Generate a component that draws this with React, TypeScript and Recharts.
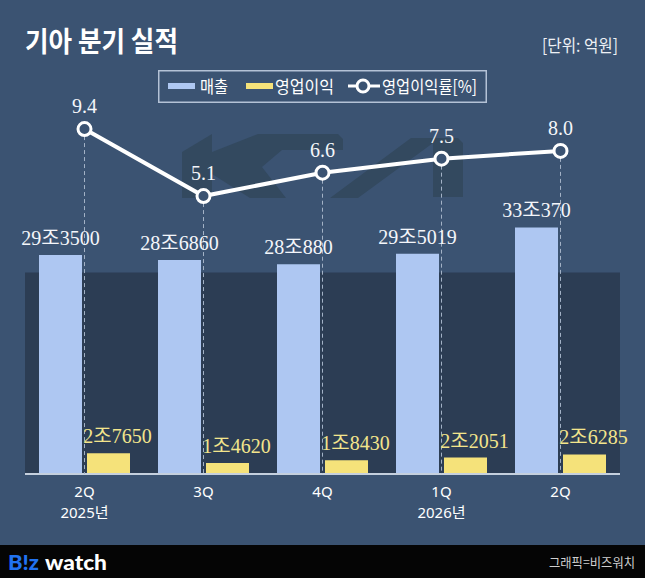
import React from 'react';
import { ComposedChart, Bar, Line, XAxis, YAxis, ReferenceArea, LabelList, Legend } from 'recharts';

// ---- data ----
const quarters = ['2Q', '3Q', '4Q', '1Q', '2Q'];
const years = ['2025년', '', '', '2026년', ''];
const revenue = [293500, 286860, 280880, 295019, 330370]; // 억원
const operatingProfit = [27650, 14620, 18430, 22051, 26285]; // 억원
const marginRate = [9.4, 5.1, 6.6, 7.5, 8.0]; // %

const data = quarters.map((q, i) => ({
  id: i,
  quarter: q,
  year: years[i],
  revenue: revenue[i],
  profit: operatingProfit[i],
  rate: marginRate[i],
}));

// ---- style constants ----
const W = 645;
const H = 578;
const BG = '#3b5372';
const BAND = '#2c3d54';
const LOGO = '#33495f';
const REV_COLOR = '#aec7f2';
const PROFIT_COLOR = '#f5e27a';
const PROFIT_TEXT = '#f3e58c';
const X_AXIS_H = 104;
const PLOT_BOTTOM = H - X_AXIS_H;
const SERIF = "'Liberation Serif', 'DejaVu Serif', 'Noto Sans CJK KR', serif";
const SANS = "'Noto Sans CJK KR', 'Noto Sans', sans-serif";
const TICK_FONT = "'Noto Sans', 'Noto Sans CJK KR', sans-serif";

const fmtJo = (v: number) => `${Math.floor(v / 10000)}조${v % 10000}`;

const RevenueLabel = (props: any) => {
  const { x, y, width, value } = props;
  return (
    <text x={Number(x) + Number(width) / 2} y={Number(y) - 10} textAnchor="middle" fill="#f4f6fa" fontSize={20} fontFamily={SERIF}>
      {fmtJo(Number(value))}
    </text>
  );
};

const ProfitLabel = (props: any) => {
  const { x, y, width, value } = props;
  return (
    <text x={Number(x) + Number(width) / 2 + 9} y={Number(y) - 10} textAnchor="middle" fill={PROFIT_TEXT} fontSize={20} fontFamily={SERIF}>
      {fmtJo(Number(value))}
    </text>
  );
};

const RateLabel = (props: any) => {
  const { x, y, value } = props;
  return (
    <text x={Number(x)} y={Number(y) - 16} textAnchor="middle" fill="#f4f6fa" fontSize={20} fontFamily={SERIF}>
      {Number(value).toFixed(1)}
    </text>
  );
};

const RateDot = (props: any) => {
  const { cx, cy, index } = props;
  return (
    <g key={`dot-${index}`}>
      <line x1={cx} y1={cy + 7} x2={cx} y2={PLOT_BOTTOM} stroke="#a3b2c6" strokeWidth={1} strokeDasharray="4 3" />
      <circle cx={cx} cy={cy} r={6.5} fill={BG} stroke="#ffffff" strokeWidth={3} />
    </g>
  );
};

const XTick = (props: any) => {
  const { x, y, payload } = props;
  const i = Number(payload.value);
  return (
    <text x={x} y={y + 23} textAnchor="middle" fill="#ffffff" fontSize={15} fontFamily={TICK_FONT}>
      <tspan x={x}>{quarters[i]}</tspan>
      {years[i] ? (
        <tspan x={x} dy={21}>
          {years[i]}
        </tspan>
      ) : null}
    </text>
  );
};

const LegendBox = () => (
  <svg width={329} height={33} style={{ display: 'block', overflow: 'visible' }}>
    <rect x={0.75} y={0.75} width={327.5} height={31.5} fill="none" stroke="#b4c2d6" strokeWidth={1.5} />
    <rect x={10} y={13} width={27} height={6} fill={REV_COLOR} />
    <text x={42} y={23} fill="#ffffff" fontSize={17} fontFamily={SANS} textLength={28} lengthAdjust="spacingAndGlyphs">매출</text>
    <rect x={88} y={13} width={27} height={6} fill={PROFIT_COLOR} />
    <text x={117} y={23} fill="#ffffff" fontSize={17} fontFamily={SANS} textLength={59} lengthAdjust="spacingAndGlyphs">영업이익</text>
    <line x1={190} y1={16} x2={222} y2={16} stroke="#ffffff" strokeWidth={3} />
    <circle cx={205} cy={16} r={6} fill={BG} stroke="#ffffff" strokeWidth={3} />
    <text x={224} y={23} fill="#ffffff" fontSize={17} fontFamily={SANS} textLength={95} lengthAdjust="spacingAndGlyphs">영업이익률[%]</text>
  </svg>
);

const Backdrop = () => (
  <svg width={W} height={H} style={{ position: 'absolute', left: 0, top: 0 }}>
    <rect x={0} y={0} width={W} height={H} fill={BG} />
    {/* faint Kia logo watermark */}
    <polygon points="182,198 182,152 212,134 212,198" fill={LOGO} />
    <polygon points="212,152 258,134 338,134 343,139 343,150 282,150 262,167 286,198 250,198 212,174" fill={LOGO} />
    <polygon points="330,198 411,138 458,138 463,143 463,197 433,197 433,143 358,198" fill={LOGO} />
    {/* title & unit */}
    <text x={25} y={52} fill="#ffffff" fontSize={28} fontWeight={700} fontFamily={SANS} textLength={153} lengthAdjust="spacingAndGlyphs">기아 분기 실적</text>
    <text x={542} y={52} fill="#eef1f5" fontSize={17} fontFamily={SANS} textLength={76} lengthAdjust="spacingAndGlyphs">[단위: 억원]</text>
    {/* footer */}
    <rect x={0} y={545} width={W} height={H - 545} fill="#050505" />
    <text x={8} y={570} fill="#2173f0" fontSize={21} fontWeight={900} fontFamily="'Lato', 'Open Sans', sans-serif" textLength={31} lengthAdjust="spacingAndGlyphs">B!z</text>
    <text x={45} y={570} fill="#ffffff" fontSize={21} fontWeight={900} fontFamily="'Lato', 'Open Sans', sans-serif" textLength={62} lengthAdjust="spacingAndGlyphs">watch</text>
    <text x={549} y={567} fill="#cfcfcf" fontSize={13} fontFamily={SANS} textLength={86} lengthAdjust="spacingAndGlyphs">그래픽=비즈워치</text>
  </svg>
);

export default function App() {
  return (
    <div style={{ position: 'absolute', left: 0, top: 0, width: W, height: H, overflow: 'hidden', background: BG }}>
      <Backdrop />
      <div style={{ position: 'absolute', left: 0, top: 0 }}>
        <ComposedChart
          width={W}
          height={H}
          data={data}
          margin={{ top: 56, right: 25, bottom: 0, left: 25 }}
          barGap={5}
          barCategoryGap={0}
        >
          <XAxis
            dataKey="id"
            type="category"
            height={X_AXIS_H}
            interval={0}
            tickLine={false}
            tickSize={0}
            tickMargin={0}
            axisLine={{ stroke: '#c5d0de', strokeWidth: 2 }}
            tick={<XTick />}
          />
          <YAxis yAxisId="left" hide domain={[0, 560000]} allowDataOverflow />
          <YAxis yAxisId="right" orientation="right" hide domain={[-12.74, 14.09]} allowDataOverflow />
          <ReferenceArea yAxisId="left" y1={0} y2={270000} fill={BAND} fillOpacity={1} stroke="none" ifOverflow="extendDomain" />
          <Legend
            layout="horizontal"
            verticalAlign="middle"
            align="center"
            content={() => <LegendBox />}
            wrapperStyle={{ position: 'absolute', left: 158, top: 70, width: 329, height: 33 }}
          />
          <Bar yAxisId="left" dataKey="revenue" fill={REV_COLOR} barSize={43} isAnimationActive={false}>
            <LabelList dataKey="revenue" content={<RevenueLabel />} />
          </Bar>
          <Bar yAxisId="left" dataKey="profit" fill={PROFIT_COLOR} barSize={43} isAnimationActive={false}>
            <LabelList dataKey="profit" content={<ProfitLabel />} />
          </Bar>
          <Line
            yAxisId="right"
            dataKey="rate"
            stroke="#ffffff"
            strokeWidth={4}
            dot={(p: any) => <RateDot key={`d${p.index}`} {...p} />}
            activeDot={false}
            isAnimationActive={false}
          >
            <LabelList dataKey="rate" content={<RateLabel />} />
          </Line>
        </ComposedChart>
      </div>
    </div>
  );
}
